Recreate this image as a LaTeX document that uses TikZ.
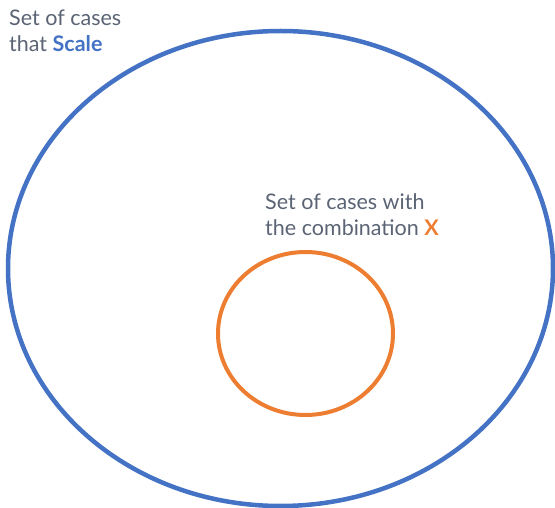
\documentclass[tikz,border=0pt]{standalone}
\usepackage{fontspec}
\setmainfont{Lato}
\definecolor{setblue}{HTML}{4472C4}
\definecolor{setorange}{HTML}{ED7D31}
\definecolor{txtgrey}{HTML}{5B6475}
\begin{document}
\begin{tikzpicture}[x=1pt,y=-1pt,
  lbl/.style={anchor=base west,inner sep=0pt,text=txtgrey,font=\fontsize{21.5}{26}\selectfont,align=left}]
\useasboundingbox (0,0) rectangle (555,508);
\draw[setblue,line width=4.5pt] (280.5,268.5) ellipse [x radius=272.5,y radius=237.5];
\draw[setorange,line width=4pt] (305.5,333.5) ellipse [x radius=87.5,y radius=81.5];
\node[lbl] (outer) at (9,52) {Set of cases\\that \textbf{\textcolor{setblue}{Scale}}};
\node[lbl] (inner) at (265,236) {Set of cases with\\the combination \textbf{\textcolor{setorange}{X}}};
\end{tikzpicture}
\end{document}
